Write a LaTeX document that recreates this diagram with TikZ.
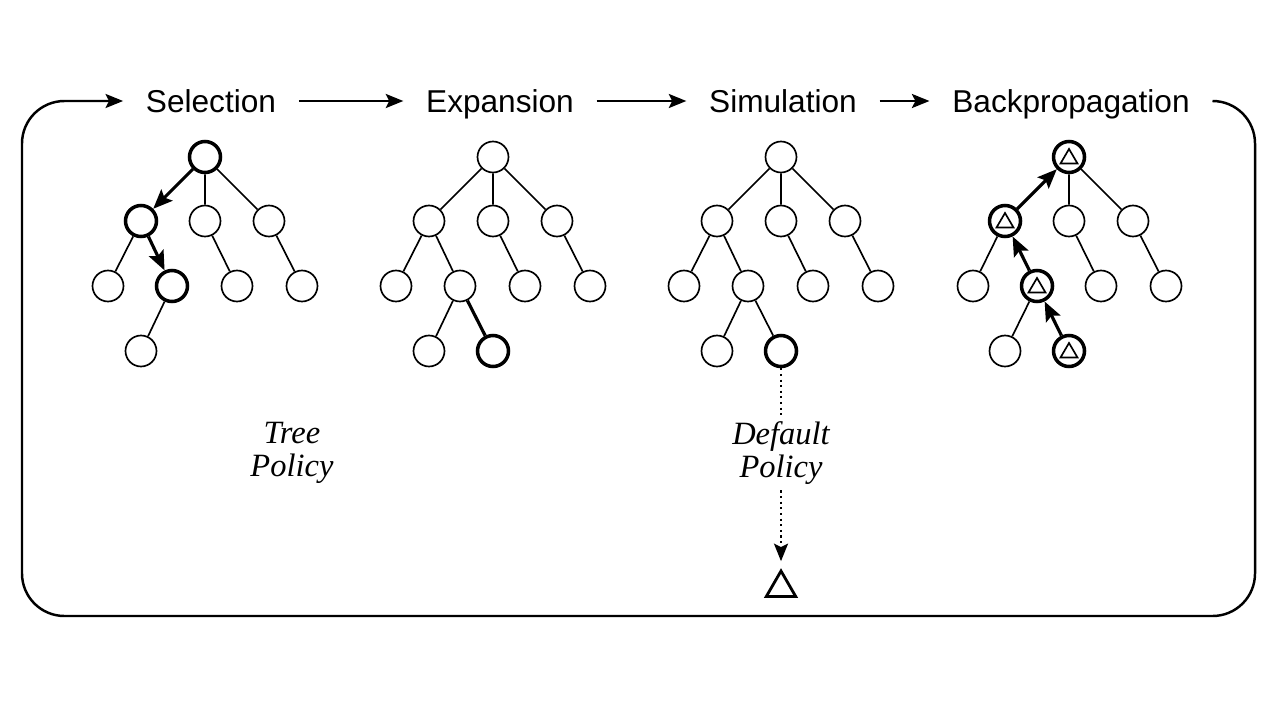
\documentclass[tikz,border=0pt]{standalone}
\usepackage{fontspec}
\setmainfont{Liberation Serif}
\setsansfont{Liberation Sans}
\usetikzlibrary{arrows.meta,shapes.geometric}

\tikzset{
  vert/.style={circle,draw,line width=0.95pt,minimum size=0.62cm,inner sep=0pt},
  hot/.style={vert,line width=2pt},
  valued/.style={hot,path picture={\draw[line width=0.95pt]
      ([xshift=-0.17cm,yshift=-0.13cm]path picture bounding box.center) --
      ([xshift=0.17cm,yshift=-0.13cm]path picture bounding box.center) --
      ([yshift=0.16cm]path picture bounding box.center) -- cycle;}},
  link/.style={line width=0.95pt},
  walk/.style={line width=1.8pt,-{Stealth[length=11pt,width=9pt,inset=2pt]}},
  stage/.style={font=\sffamily\fontsize{18}{22}\selectfont,inner xsep=0.45cm,
    inner ysep=0pt,text height=13pt,text depth=0pt},
  policy/.style={font=\itshape\fontsize{18.5}{18.5}\selectfont,align=center},
  flow/.style={line width=1.4pt,-{Stealth[length=10pt,width=8pt,inset=2pt]}},
  goal/.style={regular polygon,regular polygon sides=3,draw,line width=1.6pt,minimum size=0.68cm,inner sep=0pt}
}

\begin{document}
\begin{tikzpicture}[x=0.02cm,y=-0.02cm]
  \useasboundingbox (0,0) rectangle (1280,720);

  % stage labels and the loop round them
  \node[stage] (sel) at (211,101) {Selection};
  \node[stage] (exp) at (500,101) {Expansion};
  \node[stage] (sim) at (783,101) {Simulation};
  \node[stage] (bp) at (1071,101) {Backpropagation};
  \draw[flow] (sel) -- (exp);
  \draw[flow] (exp) -- (sim);
  \draw[flow] (sim) -- (bp);
  \coordinate (fbr) at (1255,616);
  \coordinate (ftl) at (22,101);
  \draw[flow,rounded corners=0.85cm] (bp.east) -| (fbr) -| (ftl) -- (sel.west);

  % selection
  \begin{scope}[shift={(205,157)}]
    \node[hot] (sr) at (0,0) {};
    \node[hot] (sa) at (-64,64) {};
    \node[vert] (sb) at (0,64) {};
    \node[vert] (sc) at (64,64) {};
    \node[vert] (saa) at (-97,129) {};
    \node[hot] (sab) at (-33,129) {};
    \node[vert] (sba) at (32,129) {};
    \node[vert] (sca) at (97,129) {};
    \node[vert] (saba) at (-64,194) {};
    \draw[walk] (sr) -- (sa);
    \draw[walk] (sa) -- (sab);
    \draw[link] (sr) -- (sb) (sr) -- (sc) (sa) -- (saa) (sb) -- (sba)
      (sc) -- (sca) (sab) -- (saba);
  \end{scope}

  % expansion
  \begin{scope}[shift={(493,157)}]
    \node[vert] (er) at (0,0) {};
    \node[vert] (ea) at (-64,64) {};
    \node[vert] (eb) at (0,64) {};
    \node[vert] (ec) at (64,64) {};
    \node[vert] (eaa) at (-97,129) {};
    \node[vert] (eab) at (-33,129) {};
    \node[vert] (eba) at (32,129) {};
    \node[vert] (eca) at (97,129) {};
    \node[vert] (eaba) at (-64,194) {};
    \node[hot] (eabb) at (0,194) {};
    \draw[link] (er) -- (ea) (er) -- (eb) (er) -- (ec) (ea) -- (eaa)
      (ea) -- (eab) (eb) -- (eba) (ec) -- (eca) (eab) -- (eaba);
    \draw[link,line width=1.8pt] (eab) -- (eabb);
  \end{scope}

  % simulation
  \begin{scope}[shift={(781,157)}]
    \node[vert] (mr) at (0,0) {};
    \node[vert] (ma) at (-64,64) {};
    \node[vert] (mb) at (0,64) {};
    \node[vert] (mc) at (64,64) {};
    \node[vert] (maa) at (-97,129) {};
    \node[vert] (mab) at (-33,129) {};
    \node[vert] (mba) at (32,129) {};
    \node[vert] (mca) at (97,129) {};
    \node[vert] (maba) at (-64,194) {};
    \node[hot] (mabb) at (0,194) {};
    \draw[link] (mr) -- (ma) (mr) -- (mb) (mr) -- (mc) (ma) -- (maa)
      (ma) -- (mab) (mb) -- (mba) (mc) -- (mca) (mab) -- (maba)
      (mab) -- (mabb);
  \end{scope}

  % backpropagation
  \begin{scope}[shift={(1069,157)}]
    \node[valued] (br) at (0,0) {};
    \node[valued] (ba) at (-64,64) {};
    \node[vert] (bb) at (0,64) {};
    \node[vert] (bc) at (64,64) {};
    \node[vert] (baa) at (-96,129) {};
    \node[valued] (bab) at (-32,129) {};
    \node[vert] (bba) at (32,129) {};
    \node[vert] (bca) at (97,129) {};
    \node[vert] (baba) at (-64,194) {};
    \node[valued] (babb) at (0,194) {};
    \draw[walk] (babb) -- (bab);
    \draw[walk] (bab) -- (ba);
    \draw[walk] (ba) -- (br);
    \draw[link] (br) -- (bb) (br) -- (bc) (ba) -- (baa) (bb) -- (bba)
      (bc) -- (bca) (bab) -- (baba);
  \end{scope}

  % policies
  \node[policy] (tp) at (292,453) {Tree\\Policy};
  \node[policy] (dpol) at (781,453) {Default\\Policy};
  \node[goal] (leaf) at (781,588) {};
  \draw[dotted,line width=1.2pt] (mabb) -- (dpol);
  \draw[dotted,line width=1.2pt,-{Stealth[length=10pt,width=8pt,inset=2pt]},shorten >=4pt] (dpol) -- (leaf);
\end{tikzpicture}
\end{document}
